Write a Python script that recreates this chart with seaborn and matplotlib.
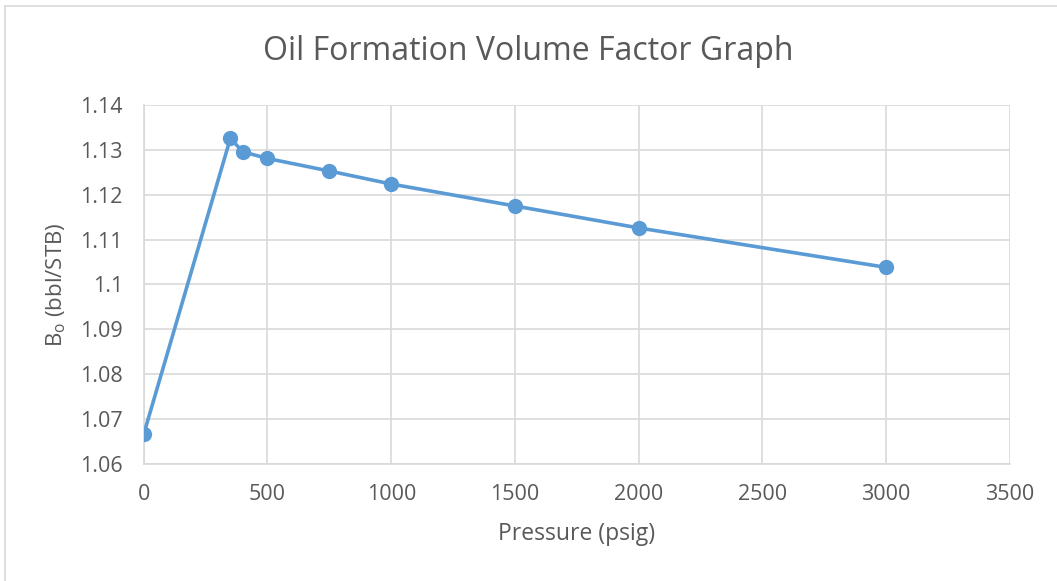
import matplotlib
matplotlib.use("Agg")
import matplotlib.pyplot as plt
import seaborn as sns
import pandas as pd
from matplotlib.lines import Line2D

# Pressure (psig) and oil formation volume factor (bbl/STB)
pressure = [0, 350, 400, 500, 750, 1000, 1500, 2000, 3000]
bo = [1.0666, 1.1326, 1.1296, 1.1281, 1.1253, 1.1224, 1.1175, 1.1126, 1.1038]

x_ticks = [0, 500, 1000, 1500, 2000, 2500, 3000, 3500]
y_ticks = [1.06, 1.07, 1.08, 1.09, 1.10, 1.11, 1.12, 1.13, 1.14]
y_tick_labels = ["1.06", "1.07", "1.08", "1.09", "1.1", "1.11", "1.12", "1.13", "1.14"]

df = pd.DataFrame({"Pressure": pressure, "Bo": bo})

sns.set_theme(style="white")
plt.rcParams["font.family"] = ["Open Sans", "DejaVu Sans"]

text_color = "#595959"
grid_color = "#D9D9D9"
line_color = "#5B9BD5"

fig = plt.figure(figsize=(10.57, 5.81), dpi=100)
ax = fig.add_axes([0.136, 0.202, 0.8195, 0.617])

sns.lineplot(data=df, x="Pressure", y="Bo", sort=False, ax=ax,
             color=line_color, linewidth=2.6, marker="o", markersize=11,
             markeredgecolor=line_color, markeredgewidth=0, zorder=3)

ax.set_xlim(0, 3500)
ax.set_ylim(1.06, 1.14)
ax.set_xticks(x_ticks)
ax.set_xticklabels([str(v) for v in x_ticks])
ax.set_yticks(y_ticks)
ax.set_yticklabels(y_tick_labels)

ax.grid(True, color=grid_color, linewidth=1.2)
ax.set_axisbelow(True)
for side in ["top", "right"]:
    ax.spines[side].set_visible(False)
for side in ["left", "bottom"]:
    ax.spines[side].set_color(grid_color)
    ax.spines[side].set_linewidth(1.2)

ax.tick_params(axis="both", length=0, labelsize=15.5, colors=text_color)
ax.tick_params(axis="y", pad=15)
ax.tick_params(axis="x", pad=15)

ax.set_xlabel("Pressure (psig)", fontsize=16.5, color=text_color, labelpad=12)
ax.set_ylabel(r"B$_\mathregular{o}$ (bbl/STB)", fontsize=16, color=text_color, labelpad=9)

fig.suptitle("Oil Formation Volume Factor Graph", fontsize=23, color=text_color, y=0.94)

# chart frame edges (left and top)
fig.add_artist(Line2D([0.005, 0.005], [0.0, 0.99], transform=fig.transFigure,
                      color=grid_color, linewidth=1.2))
fig.add_artist(Line2D([0.005, 1.0], [0.99, 0.99], transform=fig.transFigure,
                      color=grid_color, linewidth=1.2))

fig.savefig("out.png", dpi=100, facecolor="white")
